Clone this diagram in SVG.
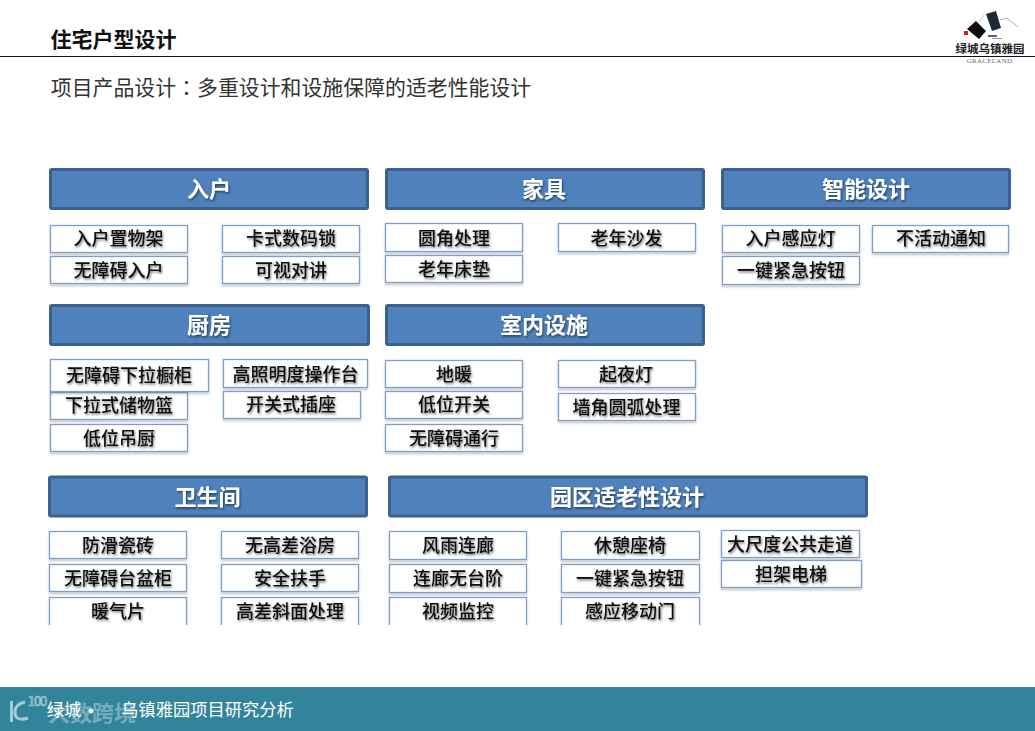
<svg xmlns="http://www.w3.org/2000/svg" width="1035" height="731" viewBox="0 0 1035 731">
<defs>
<filter id="ts" x="-10%" y="-30%" width="120%" height="170%"><feDropShadow dx="1" dy="1.5" stdDeviation="1" flood-color="#000" flood-opacity="0.55"/></filter>
<filter id="bs" x="-5%" y="-15%" width="110%" height="135%"><feDropShadow dx="0" dy="2" stdDeviation="1.2" flood-color="#000" flood-opacity="0.22"/></filter>
<filter id="soft"><feGaussianBlur stdDeviation="0.5"/></filter>
</defs>
<style>
text{font-family:"Noto Sans CJK SC","Liberation Sans",sans-serif;text-anchor:middle}
.h rect{fill:#4f81bd;stroke:#3c618f;stroke-width:3}
.h text{fill:#fff;font-size:22px;font-weight:700;filter:url(#ts)}
.b rect{fill:#fff;stroke:#7f9fc8;stroke-width:1.3;filter:url(#bs)}
.b text{fill:#111;font-size:18px;font-weight:500;filter:url(#ts)}
</style>
<rect width="1035" height="731" fill="#fff"/>
<text x="113.500" y="47" style="font-size:21px;font-weight:700;fill:#111">住宅户型设计</text>
<line x1="0" y1="56.500" x2="1035" y2="56.500" stroke="#111" stroke-width="1"/>
<text x="291" y="95" style="font-size:20.900px;fill:#333">项目产品设计<tspan style="font-family:'Noto Sans CJK TC',sans-serif">：</tspan>多重设计和设施保障的适老性能设计</text>

<g id="logo">
<g filter="url(#soft)">
<polygon points="967,29 976,21 986,31 979,39" fill="#111"/>
<polygon points="986,14 996,11 1001,28 992,31" fill="#1a2a3a"/>
<polyline points="1000,20 1007,18 1018,27" fill="none" stroke="#aab" stroke-width="1"/>
<polyline points="979,22 984,15" fill="none" stroke="#bcc" stroke-width="1"/>
<rect x="964" y="31" width="4" height="4" fill="#c22"/>
<rect x="988" y="35" width="9" height="2" fill="#567"/>
<rect x="992" y="38" width="10" height="1" fill="#89a"/>
</g>
<text x="990" y="53" style="font-size:11.500px;fill:#222;font-weight:700">绿城乌镇雅园</text>
<text x="989.500" y="63" style="font-size:6.800px;fill:#666;letter-spacing:.4px;font-family:'Liberation Serif',serif">GRACELAND</text>
</g>

<g id="h-entry" class="h"><rect x="50.500" y="169.500" width="317" height="39" rx="1.500"/><text x="209" y="197">入户</text></g>
<g id="h-furn" class="h"><rect x="386.500" y="169.500" width="317" height="39" rx="1.500"/><text x="544" y="197">家具</text></g>
<g id="h-smart" class="h"><rect x="722.500" y="169.500" width="287" height="39" rx="1.500"/><text x="866" y="197">智能设计</text></g>
<g id="h-kitchen" class="h"><rect x="50.500" y="305.500" width="318" height="39" rx="1.500"/><text x="209" y="333">厨房</text></g>
<g id="h-indoor" class="h"><rect x="386.500" y="305.500" width="317" height="39" rx="1.500"/><text x="544" y="333">室内设施</text></g>
<g id="h-bath" class="h"><rect x="49.500" y="477" width="317" height="39" rx="1.500"/><text x="207.500" y="505">卫生间</text></g>
<g id="h-park" class="h"><rect x="389.500" y="477" width="477" height="39" rx="1.500"/><text x="627" y="505">园区适老性设计</text></g>

<g id="n1" class="b"><rect x="50.500" y="225.500" width="137" height="27"/><text x="118.500" y="245">入户置物架</text></g>
<g id="n2" class="b"><rect x="50.500" y="256.500" width="137" height="27"/><text x="118.500" y="277">无障碍入户</text></g>
<g id="n3" class="b"><rect x="222.500" y="225.500" width="137" height="27"/><text x="291" y="245">卡式数码锁</text></g>
<g id="n4" class="b"><rect x="222.500" y="256.500" width="137" height="27"/><text x="291" y="277">可视对讲</text></g>

<g id="n5" class="b"><rect x="385.500" y="223.500" width="137" height="28"/><text x="454" y="245">圆角处理</text></g>
<g id="n6" class="b"><rect x="385.500" y="255.500" width="137" height="27"/><text x="454" y="276">老年床垫</text></g>
<g id="n7" class="b"><rect x="558.500" y="223.500" width="137" height="28"/><text x="626.500" y="245">老年沙发</text></g>

<g id="n8" class="b"><rect x="722.500" y="225.500" width="137" height="27"/><text x="790.500" y="245">入户感应灯</text></g>
<g id="n9" class="b"><rect x="722.500" y="256.500" width="137" height="28"/><text x="791" y="277">一键紧急按钮</text></g>
<g id="n10" class="b"><rect x="872.500" y="225.500" width="136" height="27"/><text x="941" y="245">不活动通知</text></g>

<g id="n12" class="b"><rect x="50.500" y="392.500" width="137" height="27"/><text x="119" y="412">下拉式储物篮</text></g>
<g id="n11" class="b"><rect x="50.500" y="359.500" width="158" height="32"/><text x="129" y="382">无障碍下拉橱柜</text></g>
<g id="n13" class="b"><rect x="50.500" y="424.500" width="137" height="27"/><text x="119" y="445">低位吊厨</text></g>
<g id="n14" class="b"><rect x="223.500" y="359.500" width="144" height="28"/><text x="295.500" y="381">高照明度操作台</text></g>
<g id="n15" class="b"><rect x="223.500" y="391.500" width="137" height="27"/><text x="291" y="411">开关式插座</text></g>

<g id="n16" class="b"><rect x="385.500" y="360.500" width="137" height="27"/><text x="454" y="381">地暖</text></g>
<g id="n17" class="b"><rect x="385.500" y="391.500" width="137" height="27"/><text x="454" y="411">低位开关</text></g>
<g id="n18" class="b"><rect x="385.500" y="424.500" width="137" height="27"/><text x="454" y="445">无障碍通行</text></g>
<g id="n19" class="b"><rect x="558.500" y="360.500" width="137" height="27"/><text x="626" y="381">起夜灯</text></g>
<g id="n20" class="b"><rect x="558.500" y="393.500" width="137" height="27"/><text x="626.500" y="414">墙角圆弧处理</text></g>

<g id="n21" class="b"><rect x="49.500" y="531.500" width="137" height="27"/><text x="118" y="552">防滑瓷砖</text></g>
<g id="n22" class="b"><rect x="49.500" y="564.500" width="137" height="27"/><text x="118" y="585">无障碍台盆柜</text></g>
<g id="n24" class="b"><rect x="221.500" y="531.500" width="137" height="27"/><text x="290" y="552">无高差浴房</text></g>
<g id="n25" class="b"><rect x="221.500" y="564.500" width="137" height="27"/><text x="290" y="585">安全扶手</text></g>
<g id="n27" class="b"><rect x="389.500" y="531.500" width="137" height="28"/><text x="458" y="552">风雨连廊</text></g>
<g id="n28" class="b"><rect x="389.500" y="564.500" width="137" height="28"/><text x="458" y="585">连廊无台阶</text></g>
<g id="n30" class="b"><rect x="561.500" y="531.500" width="138" height="28"/><text x="630" y="552">休憩座椅</text></g>
<g id="n31" class="b"><rect x="561.500" y="564.500" width="138" height="28"/><text x="630" y="585">一键紧急按钮</text></g>
<g id="n33" class="b"><rect x="721.500" y="530.500" width="138" height="27"/><text x="790" y="551">大尺度公共走道</text></g>
<g id="n34" class="b"><rect x="721.500" y="560.500" width="140" height="27"/><text x="791" y="581">担架电梯</text></g>

<g id="n23" class="b"><rect x="49.500" y="597.500" width="137" height="40"/><text x="118" y="618">暖气片</text></g>
<g id="n26" class="b"><rect x="221.500" y="597.500" width="137" height="40"/><text x="290" y="618">高差斜面处理</text></g>
<g id="n29" class="b"><rect x="389.500" y="597.500" width="137" height="40"/><text x="458" y="618">视频监控</text></g>
<g id="n32" class="b"><rect x="561.500" y="597.500" width="138" height="40"/><text x="630" y="618">感应移动门</text></g>
<rect x="0" y="625" width="1035" height="62" fill="#fff"/>

<g id="footer">
<rect x="0" y="687" width="1035" height="44" fill="#32849b"/>
<path d="M11.500 701V722M25 702Q15 704 15 712Q15 722 28 718" fill="none" stroke="#cfe3e8" stroke-opacity=".75" stroke-width="3"/>
<text x="37" y="706" style="font-size:13px;fill:none;stroke:#cfe3e8;stroke-opacity:.8;stroke-width:.7;letter-spacing:-1px">100</text>
<text x="92" y="721" style="font-size:22px;font-weight:700;fill:#dbe9ed;fill-opacity:.42">大数跨境</text>
<text x="64" y="716" style="font-size:17.300px;fill:#fff">绿城</text>
<circle cx="91" cy="711" r="2.500" fill="#e6f0f2"/>
<text x="207.500" y="716" style="font-size:17.300px;fill:#fff">乌镇雅园项目研究分析</text>
</g>
</svg>
